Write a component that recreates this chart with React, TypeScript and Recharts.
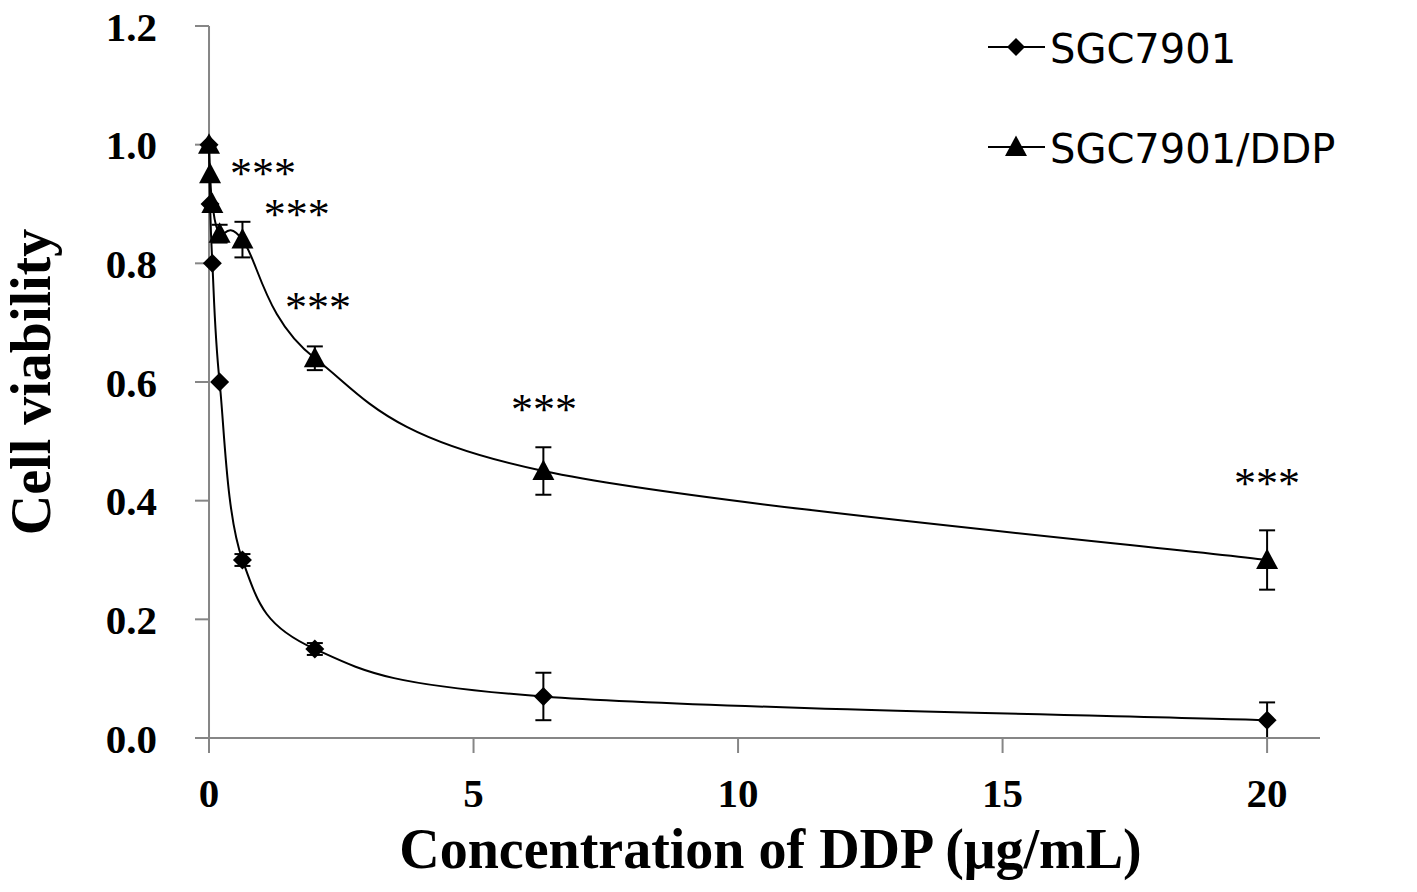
import React from "react";
import {
  ComposedChart,
  ErrorBar,
  Legend,
  Line,
  ReferenceDot,
  ReferenceLine,
  XAxis,
  YAxis,
} from "recharts";

// DDP concentrations (µg/mL), half-log dilution series
const concentrations = [0, 0.02, 0.063, 0.2, 0.632, 2, 6.32, 20];
const sgc7901 = [1.0, 0.9, 0.8, 0.6, 0.3, 0.15, 0.07, 0.03];
const sgc7901Err = [0, 0, 0, 0, 0.01, 0.01, 0.04, 0.03];
const sgc7901Ddp = [1.0, 0.95, 0.9, 0.85, 0.84, 0.64, 0.45, 0.3];
const sgc7901DdpErr = [0, 0, 0, 0.015, 0.03, 0.02, 0.04, 0.05];

const xTicks = [0, 5, 10, 15, 20];
const yTicks = [0, 0.2, 0.4, 0.6, 0.8, 1.0, 1.2];

// significance marks (x, y in data units)
const starX = [1.02, 1.66, 2.06, 6.33, 20];
const starY = [0.954, 0.885, 0.728, 0.555, 0.43];

const data = concentrations.map((c, i) => ({
  conc: c,
  sgc: sgc7901[i],
  sgcErr: sgc7901Err[i],
  ddp: sgc7901Ddp[i],
  ddpErr: sgc7901DdpErr[i],
}));

const X_MIN = -0.265;
const X_MAX = 21.0;
const AXIS = "#868686";
const SERIF = "'Liberation Serif', 'Times New Roman', serif";
const SANS = "'DejaVu Sans', sans-serif";

// Excel-style smoothed line (Catmull-Rom through the points, 1/6 handles)
const excelSmooth = (context: any) => {
  let pts: number[][] = [];
  return {
    areaStart() {},
    areaEnd() {},
    lineStart() {
      pts = [];
    },
    point(x: number, y: number) {
      pts.push([+x, +y]);
    },
    lineEnd() {
      const n = pts.length;
      if (!n) return;
      context.moveTo(pts[0][0], pts[0][1]);
      for (let i = 0; i < n - 1; i++) {
        const p0 = pts[Math.max(i - 1, 0)];
        const p1 = pts[i];
        const p2 = pts[i + 1];
        const p3 = pts[Math.min(i + 2, n - 1)];
        context.bezierCurveTo(
          p1[0] + (p2[0] - p0[0]) / 6,
          p1[1] + (p2[1] - p0[1]) / 6,
          p2[0] - (p3[0] - p1[0]) / 6,
          p2[1] - (p3[1] - p1[1]) / 6,
          p2[0],
          p2[1]
        );
      }
    },
  };
};

const diamondPath = (cx: number, cy: number, r = 9.5) =>
  `M${cx},${cy - r}L${cx + r},${cy}L${cx},${cy + r}L${cx - r},${cy}Z`;
const trianglePath = (cx: number, cy: number) =>
  `M${cx},${cy - 11.5}L${cx + 11},${cy + 9}L${cx - 11},${cy + 9}Z`;

const renderDiamond = (p: any) => (
  <path key={`d-${p.index}`} d={diamondPath(p.cx, p.cy)} fill="#000" />
);
const renderTriangle = (p: any) => (
  <path key={`t-${p.index}`} d={trianglePath(p.cx, p.cy)} fill="#000" />
);

const markers: Record<string, (cx: number, cy: number) => string> = {
  sgc: (cx, cy) => diamondPath(cx, cy, 9),
  ddp: (cx, cy) => trianglePath(cx, cy),
};

const renderLegend = (props: any) => {
  const { payload = [] } = props;
  return (
    <svg width={430} height={170}>
      {payload.map((entry: any, i: number) => {
        const cy = 27 + i * 100;
        const mk = markers[entry.dataKey] ?? markers.sgc;
        return (
          <g key={entry.value}>
            <line x1={3} x2={60} y1={cy} y2={cy} stroke="#000" strokeWidth={2} />
            <path d={mk(31, cy)} fill="#000" />
            <text x={65} y={cy + 16} fontFamily={SANS} fontSize={40} fill="#000">
              {entry.value}
            </text>
          </g>
        );
      })}
    </svg>
  );
};

export default function App() {
  return (
    <div style={{ position: "absolute", left: 0, top: 0, background: "#fff" }}>
      <ComposedChart
        width={1417}
        height={892}
        data={data}
        margin={{ top: 26, right: 97, bottom: 0, left: 0 }}
      >
        <XAxis
          dataKey="conc"
          type="number"
          domain={[X_MIN, X_MAX]}
          ticks={xTicks}
          allowDataOverflow
          height={154}
          stroke={AXIS}
          axisLine={{ stroke: AXIS, strokeWidth: 2 }}
          tickLine={{ stroke: AXIS, strokeWidth: 2 }}
          tickSize={15}
          tickMargin={25}
          tick={{ fill: "#000", fontSize: 41, fontWeight: 700, fontFamily: SERIF }}
          label={{
            value: "Concentration of DDP (μg/mL)",
            position: "insideBottom",
            offset: 24,
            dx: 13,
            fill: "#000",
            fontSize: 56,
            fontWeight: 700,
            fontFamily: SERIF,
          }}
        />
        <YAxis
          type="number"
          domain={[0, 1.2]}
          ticks={yTicks}
          width={195}
          axisLine={false}
          tickLine={false}
          tickSize={0}
          tickMargin={38}
          tickFormatter={(v: number) => v.toFixed(1)}
          tick={{ fill: "#000", fontSize: 41, fontWeight: 700, fontFamily: SERIF }}
          label={{
            value: "Cell viability",
            angle: -90,
            position: "center",
            dx: -67,
            fill: "#000",
            fontSize: 56,
            fontWeight: 700,
            fontFamily: SERIF,
          }}
        />
        {/* vertical axis crosses at x = 0 */}
        <ReferenceLine x={0} stroke={AXIS} strokeWidth={2} />
        {yTicks.map((t) => (
          <ReferenceLine
            key={`yt-${t}`}
            segment={[
              { x: X_MIN, y: t },
              { x: 0, y: t },
            ]}
            stroke={AXIS}
            strokeWidth={2}
          />
        ))}
        <Line
          type={excelSmooth as any}
          dataKey="sgc"
          name="SGC7901"
          stroke="#000"
          strokeWidth={2}
          dot={renderDiamond}
          activeDot={false}
          isAnimationActive={false}
        >
          <ErrorBar dataKey="sgcErr" direction="y" width={8} stroke="#000" strokeWidth={2} />
        </Line>
        <Line
          type={excelSmooth as any}
          dataKey="ddp"
          name="SGC7901/DDP"
          stroke="#000"
          strokeWidth={2}
          dot={renderTriangle}
          activeDot={false}
          isAnimationActive={false}
        >
          <ErrorBar dataKey="ddpErr" direction="y" width={8} stroke="#000" strokeWidth={2} />
        </Line>
        {starX.map((x, i) => (
          <ReferenceDot
            key={`star-${i}`}
            x={x}
            y={starY[i]}
            r={0}
            stroke="none"
            fill="none"
            label={{
              value: "***",
              position: "center",
              fill: "#000",
              fontSize: 44,
              fontFamily: SERIF,
            }}
          />
        ))}
        <Legend
          layout="horizontal"
          verticalAlign="middle"
          align="center"
          content={renderLegend}
          wrapperStyle={{ position: "absolute", left: 985, top: 20, width: 430, height: 170 }}
        />
      </ComposedChart>
    </div>
  );
}
